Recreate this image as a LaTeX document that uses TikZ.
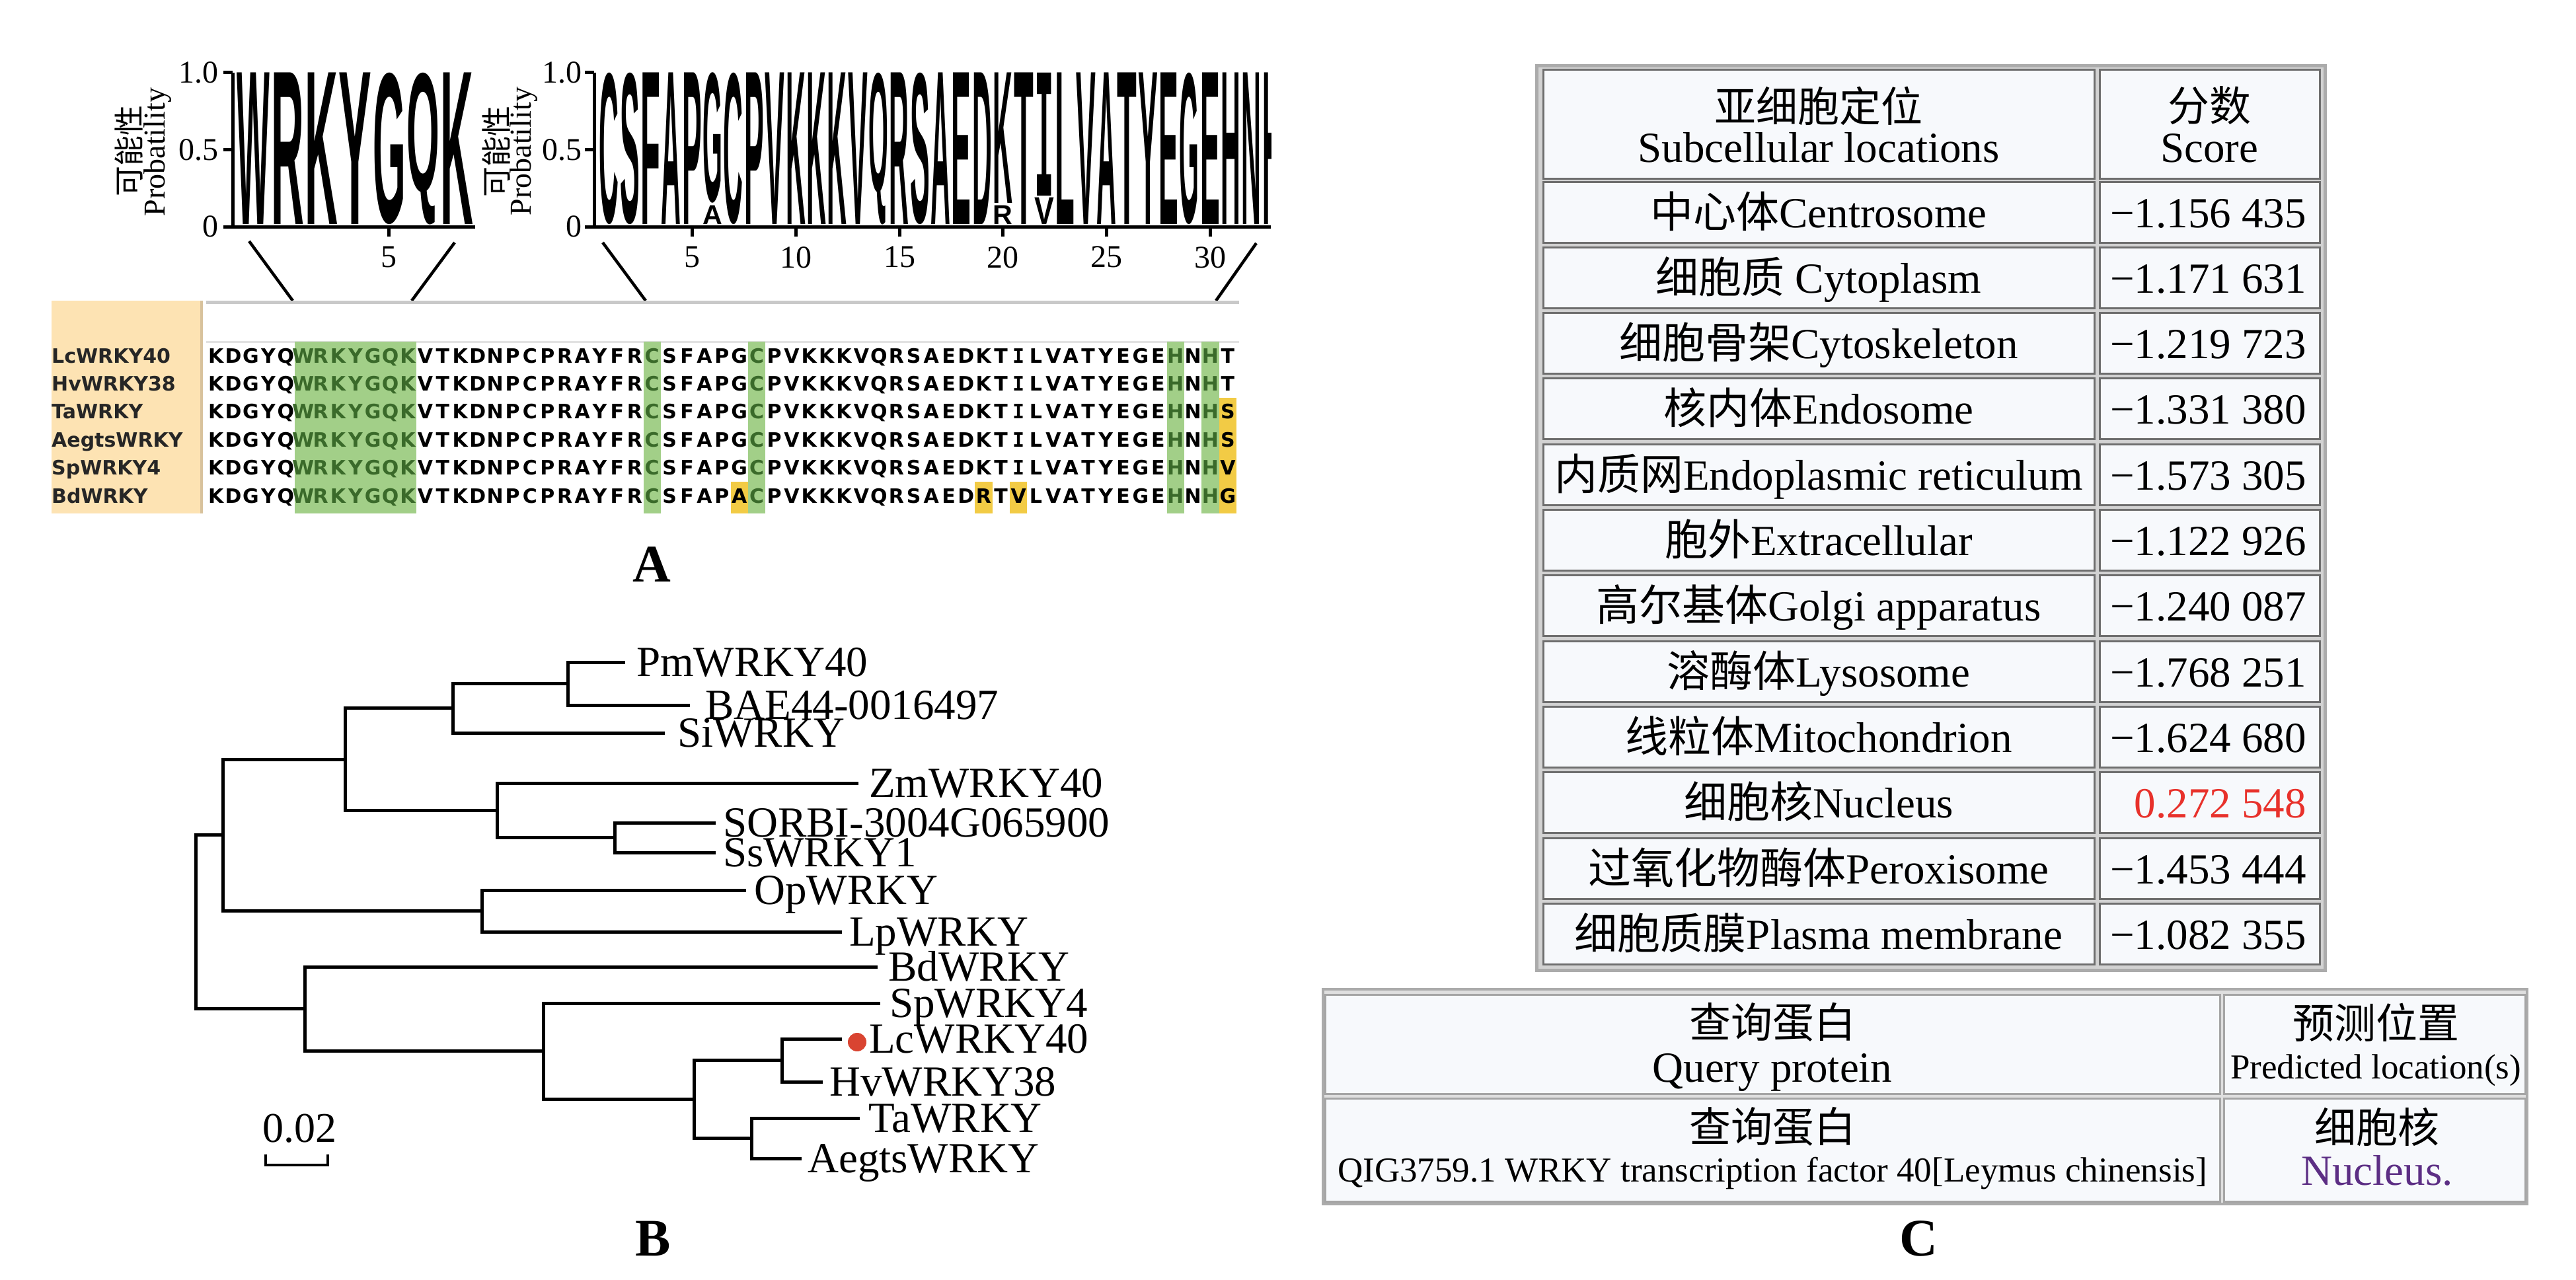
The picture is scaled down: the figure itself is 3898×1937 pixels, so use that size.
\documentclass[tikz,border=0pt]{standalone}
\usepackage{fontspec}
\usepackage{graphicx}
\setmainfont{Liberation Serif}
\newfontfamily\cjk{Noto Sans CJK SC}
\newfontfamily\alnfont{DejaVu Sans}
\newfontfamily\logofont{Liberation Sans}
\newfontfamily\logomono{DejaVu Sans Mono}
\definecolor{nameorange}{HTML}{FDE3B3}
\definecolor{nameedge}{HTML}{D8C29C}
\definecolor{hlgreen}{HTML}{A2CF88}
\definecolor{txgreen}{HTML}{3A6A2A}
\definecolor{hlyellow}{HTML}{F2CB45}
\definecolor{treered}{HTML}{D94431}
\definecolor{scorered}{HTML}{E8312B}
\definecolor{nucpurple}{HTML}{5C2E84}
\definecolor{cellfill}{HTML}{F7F9FC}
\definecolor{celledge}{HTML}{6E6E6E}
\definecolor{tabgap}{HTML}{D2D2D2}
\definecolor{tabedge}{HTML}{ABABAB}
\definecolor{celledgeb}{HTML}{A5A5A5}
\definecolor{topline}{HTML}{C9C9C9}
\definecolor{subline}{HTML}{E2E2E2}

\newcount\seqi
\def\seqcolr{black}
\def\seqloop#1{\ifx#1\relax\else
  \advance\seqi by 1
  \def\seqcolr{black}%
  \ifnum\seqi>5 \ifnum\seqi<13 \def\seqcolr{txgreen}\fi\fi
  \ifnum\seqi=26 \def\seqcolr{txgreen}\fi
  \ifnum\seqi=32 \def\seqcolr{txgreen}\fi
  \ifnum\seqi=56 \def\seqcolr{txgreen}\fi
  \ifnum\seqi=58 \def\seqcolr{txgreen}\fi
  \node[seqch,text=\seqcolr] at ({313.5+(\the\seqi-0.5)*26.4},\seqbase) {\ifx#1I\logomono\fi #1};%
  \expandafter\seqloop\fi}
\newcommand\seqrow[2]{\seqi=0 \def\seqbase{#2}\seqloop#1\relax}

% logo glyph: left x, top y, width, height, letter
\newcommand\logoL[5]{\node[inner sep=0pt,outer sep=0pt,anchor=north] at ({#1+#3/2},{#2}) {\resizebox*{\dimexpr#3pt-1.6pt\relax}{\dimexpr#4pt-0.6pt\relax}{\logofont\bfseries #5}};}

\newcommand\trow[3]{%
  \pgfmathsetmacro\rt{275+(#1-1)*99.3}%
  \draw[cell] (2335,\rt) rectangle (3169,\rt+92);
  \draw[cell] (3177,\rt) rectangle (3510,\rt+92);
  \node[ent] (ra#1) at (2752,\rt+69) {#2};
  \node[ent,anchor=base east] (rb#1) at (3490,\rt+69) {#3};
}

\tikzset{
  seqch/.style={anchor=base, inner sep=0pt, font=\alnfont\bfseries\fontsize{30}{30}\selectfont},
  namech/.style={anchor=base west, inner sep=0pt, text=black!85, font=\alnfont\bfseries\fontsize{30}{30}\selectfont},
  leaf/.style={anchor=base west, inner sep=0pt, font=\fontsize{65}{70}\selectfont},
  branch/.style={line width=5pt, line join=miter},
  axisl/.style={line width=5pt},
  zoomline/.style={line width=4.5pt},
  axnum/.style={inner sep=0pt, font=\fontsize{48}{50}\selectfont},
  ytitle/.style={inner sep=0pt, rotate=90, font=\fontsize{46}{50}\selectfont},
  panlab/.style={anchor=base, inner sep=0pt, font=\bfseries\fontsize{80}{80}\selectfont},
  cell/.style={draw=celledge, line width=3pt, fill=cellfill},
  cellb/.style={draw=celledgeb, line width=3pt, fill=cellfill},
  ent/.style={anchor=base, inner sep=0pt, font=\fontsize{65}{70}\selectfont},
  ents/.style={anchor=base, inner sep=0pt, font=\fontsize{53}{58}\selectfont},
  cjkt/.style={anchor=center, inner sep=0pt, font=\cjk\fontsize{63}{70}\selectfont},
}

\begin{document}
\begin{tikzpicture}[x=1pt,y=-1pt]
\useasboundingbox[fill=white] (0,0) rectangle (3898,1937);

%% ---------------- Panel A : logos ----------------
% logo 1
\foreach \ch [count=\i from 0] in {W,R,K,Y,G,Q,K}{\logoL{358+\i*51.3}{110}{51.3}{230}{\ch}}
\draw[axisl] (352,110) -- (352,343);
\foreach \yy in {110,226.5,343}{\draw[axisl] (338,\yy) -- (352,\yy);}
\draw[axisl] (338,343) -- (719,343);
\draw[axisl] (588,343) -- (588,358);
\node[axnum,anchor=east] (a1n10) at (331,110) {1.0};
\node[axnum,anchor=east] (a1n05) at (331,226.5) {0.5};
\node[axnum,anchor=east] (a1n0) at (331,343) {0};
\node[axnum,anchor=north] (a1t5) at (588,373) {5};
\node[ytitle] (yt1a) at (195,228) {\cjk 可能性};
\node[ytitle] (yt1b) at (239,230) {Probatility};

% logo 2
\begin{scope}
\clip (899,100) rectangle (1923,345);
\foreach \ch/\p in {C/1,S/2,F/3,A/4,P/5,C/7,P/8,V/9,K/10,K/11,K/12,V/13,Q/14,R/15,S/16,A/17,E/18,D/19,T/21,L/23,V/24,A/25,T/26,Y/27,E/28,G/29,E/30,H/31,N/32,H/33}{\logoL{906+(\p-1)*31.36}{110}{31.36}{230}{\ch}}
\logoL{906+5*31.36}{110}{31.36}{198}{G}
\logoL{906+5*31.36}{311}{31.36}{29}{A}
\logoL{906+19*31.36}{110}{31.36}{198}{K}
\logoL{906+19*31.36}{311}{31.36}{29}{R}
\node[inner sep=0pt,outer sep=0pt,anchor=north] (lgI) at ({906+21.5*31.36},110) {\resizebox*{29.5pt}{186pt}{\logomono\bfseries I}};
\logoL{906+21*31.36}{299}{31.36}{41}{V}
\end{scope}
\draw[axisl] (899,110) -- (899,343);
\foreach \yy in {110,226.5,343}{\draw[axisl] (885,\yy) -- (899,\yy);}
\draw[axisl] (885,343) -- (1923,343);
\foreach \t/\xx in {5/1047,10/1204,15/1361,20/1517,25/1674,30/1831}{
  \draw[axisl] (\xx,343) -- (\xx,358);
  \node[axnum,anchor=north] (a2t\t) at (\xx,373) {\t};}
\node[axnum,anchor=east] (a2n10) at (881,110) {1.0};
\node[axnum,anchor=east] (a2n05) at (881,226.5) {0.5};
\node[axnum,anchor=east] (a2n0) at (881,343) {0};
\node[ytitle] (yt2a) at (751,229) {\cjk 可能性};
\node[ytitle] (yt2b) at (792,229) {Probatility};

% zoom lines
\coordinate (z1a) at (377,365); \coordinate (z1b) at (443,455);
\coordinate (z2a) at (688,367); \coordinate (z2b) at (623,455);
\coordinate (z3a) at (912,367); \coordinate (z3b) at (977,455);
\coordinate (z4a) at (1901,368); \coordinate (z4b) at (1840,455);
\draw[zoomline] (z1a) -- (z1b);
\draw[zoomline] (z2a) -- (z2b);
\draw[zoomline] (z3a) -- (z3b);
\draw[zoomline] (z4a) -- (z4b);

%% ---------------- Panel A : alignment ----------------
\fill[nameorange] (78,455) rectangle (303,777);
\draw[nameedge,line width=4pt] (305,455) -- (305,777);
\draw[topline,line width=5pt] (312,457) -- (1875,457);
\draw[subline,line width=3pt] (312,517) -- (1875,517);
% green columns
\fill[hlgreen] (445.5,517) rectangle (630.3,777);
\fill[hlgreen] (973.5,517) rectangle (999.9,777);
\fill[hlgreen] (1131.9,517) rectangle (1158.3,777);
\fill[hlgreen] (1765.5,517) rectangle (1791.9,777);
\fill[hlgreen] (1818.3,517) rectangle (1844.7,777);
% yellow cells
\fill[hlyellow] (1844.7,602) rectangle (1871.1,777);
\fill[hlyellow] (1105.5,729) rectangle (1131.9,777);
\fill[hlyellow] (1475.1,729) rectangle (1501.5,777);
\fill[hlyellow] (1527.9,729) rectangle (1554.3,777);
% names
\node[namech] (nm1) at (78,549) {LcWRKY40};
\node[namech] (nm2) at (78,591.4) {HvWRKY38};
\node[namech] (nm3) at (78,633.8) {TaWRKY};
\node[namech] (nm4) at (78,676.2) {AegtsWRKY};
\node[namech] (nm5) at (78,718.6) {SpWRKY4};
\node[namech] (nm6) at (78,761) {BdWRKY};
% sequences
\seqrow{KDGYQWRKYGQKVTKDNPCPRAYFRCSFAPGCPVKKKVQRSAEDKTILVATYEGEHNHT}{549}
\seqrow{KDGYQWRKYGQKVTKDNPCPRAYFRCSFAPGCPVKKKVQRSAEDKTILVATYEGEHNHT}{591.4}
\seqrow{KDGYQWRKYGQKVTKDNPCPRAYFRCSFAPGCPVKKKVQRSAEDKTILVATYEGEHNHS}{633.8}
\seqrow{KDGYQWRKYGQKVTKDNPCPRAYFRCSFAPGCPVKKKVQRSAEDKTILVATYEGEHNHS}{676.2}
\seqrow{KDGYQWRKYGQKVTKDNPCPRAYFRCSFAPGCPVKKKVQRSAEDKTILVATYEGEHNHV}{718.6}
\seqrow{KDGYQWRKYGQKVTKDNPCPRAYFRCSFAPACPVKKKVQRSAEDRTVLVATYEGEHNHG}{761}

\node[panlab] (labA) at (986,880) {A};

%% ---------------- Panel B : tree ----------------
\coordinate (lPm) at (946,1002);
\coordinate (lBAE) at (1044,1067);
\coordinate (lSi) at (1006,1109);
\coordinate (lZm) at (1299,1185);
\coordinate (lSO) at (1083,1245);
\coordinate (lSs) at (1083,1290);
\coordinate (lOp) at (1129,1347);
\coordinate (lLp) at (1274,1410);
\coordinate (lBd) at (1328,1463);
\coordinate (lSp) at (1332,1518);
\coordinate (lLc) at (1274,1572);
\coordinate (lHv) at (1245,1637);
\coordinate (lTa) at (1301,1692);
\coordinate (lAe) at (1213,1753);
\coordinate (nPB) at (859,1034.5);
\coordinate (nPBS) at (685,1071.75);
\coordinate (nSS) at (930,1267.5);
\coordinate (nZS) at (752,1226.25);
\coordinate (nA) at (522,1149);
\coordinate (nOL) at (729,1378.5);
\coordinate (nB) at (337,1263.75);
\coordinate (nLH) at (1183,1604.5);
\coordinate (nTA) at (1137,1722.5);
\coordinate (nLT) at (1050,1663.5);
\coordinate (nSL) at (822,1590.75);
\coordinate (nC) at (461,1526.9);
\coordinate (nR) at (296,1395.3);
\foreach \p/\c in {nPB/lPm,nPB/lBAE,nPBS/nPB,nPBS/lSi,nSS/lSO,nSS/lSs,nZS/lZm,nZS/nSS,
  nA/nPBS,nA/nZS,nOL/lOp,nOL/lLp,nB/nA,nB/nOL,nLH/lLc,nLH/lHv,nTA/lTa,nTA/lAe,
  nLT/nLH,nLT/nTA,nSL/lSp,nSL/nLT,nC/lBd,nC/nSL,nR/nB,nR/nC}{\draw[branch] (\p) |- (\c);}
\node[leaf] (tPm) at (963,1023.5) {PmWRKY40};
\node[leaf] (tBAE) at (1067,1088.5) {BAE44-0016497};
\node[leaf] (tSi) at (1025,1130.5) {SiWRKY};
\node[leaf] (tZm) at (1315,1206.5) {ZmWRKY40};
\node[leaf] (tSO) at (1094,1266.5) {SORBI-3004G065900};
\node[leaf] (tSs) at (1094,1311.5) {SsWRKY1};
\node[leaf] (tOp) at (1141,1368.5) {OpWRKY};
\node[leaf] (tLp) at (1285,1431.5) {LpWRKY};
\node[leaf] (tBd) at (1344,1484.5) {BdWRKY};
\node[leaf] (tSp) at (1346,1539.5) {SpWRKY4};
\node[circle,fill=treered,inner sep=0pt,minimum size=28pt] (dot) at (1297,1577) {};
\node[leaf] (tLc) at (1315,1593.5) {LcWRKY40};
\node[leaf] (tHv) at (1255,1658.5) {HvWRKY38};
\node[leaf] (tTa) at (1314,1713.5) {TaWRKY};
\node[leaf] (tAe) at (1222,1774.5) {AegtsWRKY};
% scale bar
\node[anchor=base,inner sep=0pt,font=\fontsize{64}{64}\selectfont] (sc) at (453,1728) {0.02};
\coordinate (sbL) at (402,1763); \coordinate (sbR) at (496,1763);
\draw[line width=4.5pt] ([yshift=16pt]sbL) -- (sbL) -- (sbR) -- ([yshift=16pt]sbR);
\node[panlab] (labB) at (988,1900) {B};

%% ---------------- Panel C : tables ----------------
\fill[tabgap] (2325,100) rectangle (3518,1468);
\draw[tabedge,line width=5pt] (2325,100) rectangle (3518,1468);
\draw[cell] (2335,106) rectangle (3169,270);
\draw[cell] (3177,106) rectangle (3510,270);
\node[cjkt] (hA1) at (2752,160) {亚细胞定位};
\node[ent] (hA2) at (2752,246) {Subcellular locations};
\node[cjkt] (hB1) at (3343,160) {分数};
\node[ent] (hB2) at (3343,246) {Score};
\trow{1}{{\cjk 中心体}Centrosome}{−1.156 435}
\trow{2}{{\cjk 细胞质} Cytoplasm}{−1.171 631}
\trow{3}{{\cjk 细胞骨架}Cytoskeleton}{−1.219 723}
\trow{4}{{\cjk 核内体}Endosome}{−1.331 380}
\trow{5}{{\cjk 内质网}Endoplasmic reticulum}{−1.573 305}
\trow{6}{{\cjk 胞外}Extracellular}{−1.122 926}
\trow{7}{{\cjk 高尔基体}Golgi apparatus}{−1.240 087}
\trow{8}{{\cjk 溶酶体}Lysosome}{−1.768 251}
\trow{9}{{\cjk 线粒体}Mitochondrion}{−1.624 680}
\trow{10}{{\cjk 细胞核}Nucleus}{\textcolor{scorered}{0.272 548}}
\trow{11}{{\cjk 过氧化物酶体}Peroxisome}{−1.453 444}
\trow{12}{{\cjk 细胞质膜}Plasma membrane}{−1.082 355}

% second table
\fill[tabgap!70] (2002,1497) rectangle (3824,1822);
\draw[tabedge,line width=4pt] (2002,1497) rectangle (3824,1822);
\draw[cellb] (2005,1505) rectangle (3359,1655);
\draw[cellb] (3365,1505) rectangle (3821,1655);
\draw[cellb] (2005,1662) rectangle (3359,1818);
\draw[cellb] (3365,1662) rectangle (3821,1818);
\node[cjkt] (q1) at (2682,1547) {查询蛋白};
\node[ent] (q2) at (2682,1637) {Query protein};
\node[cjkt] (p1) at (3595,1547) {预测位置};
\node[ents] (p2) at (3595,1632) {Predicted location(s)};
\node[cjkt] (q3) at (2682,1705) {查询蛋白};
\node[ents] (q4) at (2682,1788) {QIG3759.1 WRKY transcription factor 40[Leymus chinensis]};
\node[cjkt] (p3) at (3597,1706) {细胞核};
\node[ent,text=nucpurple] (p4) at (3597,1793) {Nucleus.};
\node[panlab] (labC) at (2903,1900) {C};
\end{tikzpicture}
\end{document}
